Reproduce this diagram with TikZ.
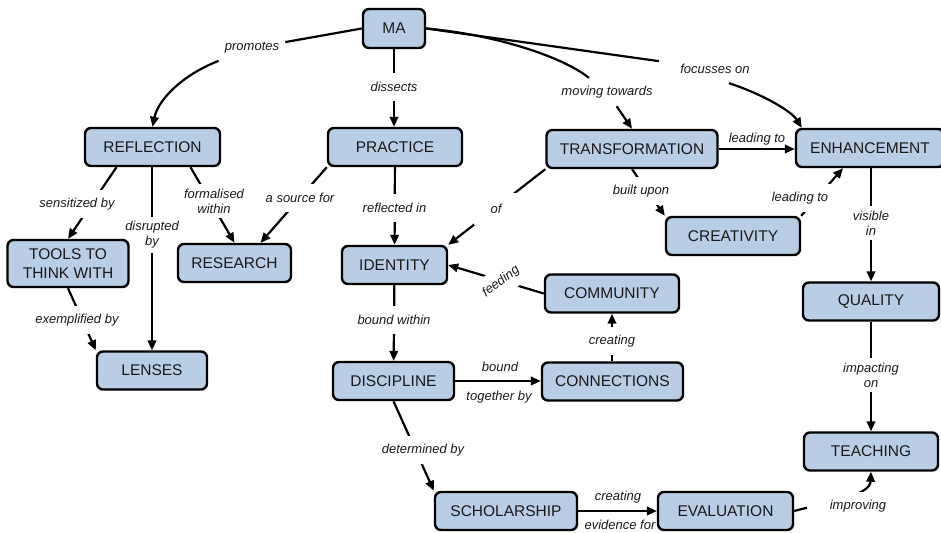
\documentclass[tikz,border=0pt]{standalone}
\usepackage{fontspec}
\setmainfont{Liberation Sans}
\usetikzlibrary{arrows.meta}
\definecolor{conceptfill}{HTML}{B9CDE5}
\definecolor{inktext}{HTML}{1A1A1A}
\begin{document}
\begin{tikzpicture}[x=1pt,y=-1pt,
  concept/.style={draw=black, line width=2.4pt, rounded corners=6pt, fill=conceptfill,
    text=inktext, font=\fontsize{15.5}{18.5}\selectfont, align=center,
    minimum height=38pt, inner sep=2pt},
  linkword/.style={font=\fontsize{13}{15}\selectfont\itshape, text=inktext, align=center,
    fill=white, inner xsep=6pt, inner ysep=5pt, minimum height=28pt},
  plainword/.style={font=\fontsize{13}{15}\selectfont\itshape, text=inktext, inner sep=0pt},
  link/.style={line width=2.2pt, draw=black},
  linkarrow/.style={link, -{Triangle[length=10pt,width=8.5pt]}},
]
\useasboundingbox (0,0) rectangle (941,532);
\fill[white] (0,0) rectangle (941,532);

% concepts
\node[concept, minimum width=62pt, minimum height=39pt] (MA) at (394,28.5) {MA};
\node[concept, minimum width=135pt] (REF) at (152.5,147) {REFLECTION};
\node[concept, minimum width=134pt] (PRA) at (395,147) {PRACTICE};
\node[concept, minimum width=171pt] (TRA) at (632,149) {TRANSFORMATION};
\node[concept, minimum width=148pt] (ENH) at (870,148) {ENHANCEMENT};
\node[concept, minimum width=134pt] (CRE) at (733,236) {CREATIVITY};
\node[concept, minimum width=121pt, minimum height=47pt] (TOOL) at (68,263.5) {TOOLS TO\\THINK WITH};
\node[concept, minimum width=113pt] (RES) at (234.5,263) {RESEARCH};
\node[concept, minimum width=105pt] (IDE) at (394.5,265) {IDENTITY};
\node[concept, minimum width=110pt] (LEN) at (152,370.5) {LENSES};
\node[concept, minimum width=121pt] (DIS) at (393.5,381) {DISCIPLINE};
\node[concept, minimum width=134pt] (COM) at (612,293.5) {COMMUNITY};
\node[concept, minimum width=141pt] (CON) at (612.5,381.5) {CONNECTIONS};
\node[concept, minimum width=136pt] (QUA) at (871,301.5) {QUALITY};
\node[concept, minimum width=134pt] (TEA) at (871,451.5) {TEACHING};
\node[concept, minimum width=142pt] (SCH) at (506,511) {SCHOLARSHIP};
\node[concept, minimum width=135pt] (EVA) at (725.5,511) {EVALUATION};

% links routed through their linking words
\node[linkword] (lprom) at (252,48) {promotes};
\draw[link] (MA.west) -- (lprom);
\draw[linkarrow] (lprom) .. controls (182,75) and (158,100) .. (REF.north);

\node[linkword] (lmov) at (607,92) {moving towards};
\draw[link] (MA.east) .. controls (490,34) and (560,55) .. (lmov);
\draw[linkarrow] (lmov) -- (TRA.north);

\node[linkword, minimum width=112pt] (lfoc) at (715,69) {focusses on};
\draw[link] (MA.east) -- (lfoc);
\draw[linkarrow] ([xshift=14pt]lfoc.south) .. controls (765,95) and (792,112) .. ([xshift=7pt]ENH.north west);

\node[linkword, fill=none, inner xsep=1pt, inner ysep=4pt] (ldisr) at (152,235) {disrupted\\by};
\draw[link] (LEN.north |- REF.south) -- (ldisr);
\draw[linkarrow] (ldisr) -- (LEN.north);

% straight links
\draw[linkarrow] (MA.south) -- (MA.south |- PRA.north);
\draw[linkarrow] (TRA.east) -- (TRA.east -| ENH.west);
\draw[linkarrow] (TRA.south) -- (CRE.north west);
\draw[linkarrow] (CRE.north east) -- ([xshift=-27pt]ENH.south);
\draw[linkarrow] (TRA.south west) -- (IDE.north east);
\draw[linkarrow] (QUA.north |- ENH.south) -- (QUA.north);
\draw[linkarrow] (QUA) -- (TEA);
\draw[linkarrow] (EVA.east) .. controls (835,500) and (870,495) .. (TEA.south);
\draw[linkarrow] (SCH) -- (EVA);
\draw[linkarrow] (DIS.east) -- (DIS.east -| CON.west);
\draw[linkarrow] (COM.south |- CON.north) -- (COM.south);
\draw[linkarrow] (COM.west) -- (IDE.east);
\draw[linkarrow] (PRA) -- (IDE);
\draw[linkarrow] (PRA.south west) -- ([xshift=26pt]RES.north);
\draw[linkarrow] ([xshift=38pt]REF.south) -- (RES.north);
\draw[linkarrow] ([xshift=-36pt]REF.south) -- (TOOL.north);
\draw[linkarrow] (TOOL.south) -- (LEN.north west);
\draw[linkarrow] (IDE) -- (DIS);
\draw[linkarrow] (DIS.south) -- (SCH.north west);

% linking words laid over their links
\node[linkword] (ldis) at (394,87) {dissects};
\node[plainword] (llead1) at (757,139) {leading to};
\node[linkword] (lbuilt) at (641,191) {built upon};
\node[linkword] (llead2) at (800,198) {leading to};
\node[linkword, minimum width=44pt, minimum height=32pt] (lof) at (496,209) {of};
\node[linkword] (lvis) at (871,223) {visible\\in};
\node[linkword] (limpa) at (871,375) {impacting\\on};
\node[linkword, minimum width=102pt] (limp) at (858,506) {improving};
\node[plainword] (lcre2) at (618,497) {creating};
\node[plainword] (levi) at (620,524.5) {evidence for};
\node[plainword] (lbnd) at (500,367) {bound};
\node[plainword] (ltog) at (499,397) {together by};
\node[linkword] (lcre1) at (612,341) {creating};
\node[linkword, rotate=37] (lfeed) at (501,281.5) {feeding};
\node[linkword] (lrefl) at (394.5,208) {reflected in};
\node[linkword] (lsrc) at (300,198) {a source for};
\node[linkword] (lform) at (214,201) {formalised\\within};
\node[linkword] (lsens) at (77,204) {sensitized by};
\node[linkword] (lexe) at (77,320) {exemplified by};
\node[linkword] (lbw) at (394,320) {bound within};
\node[linkword] (ldet) at (423,450) {determined by};
\end{tikzpicture}
\end{document}
